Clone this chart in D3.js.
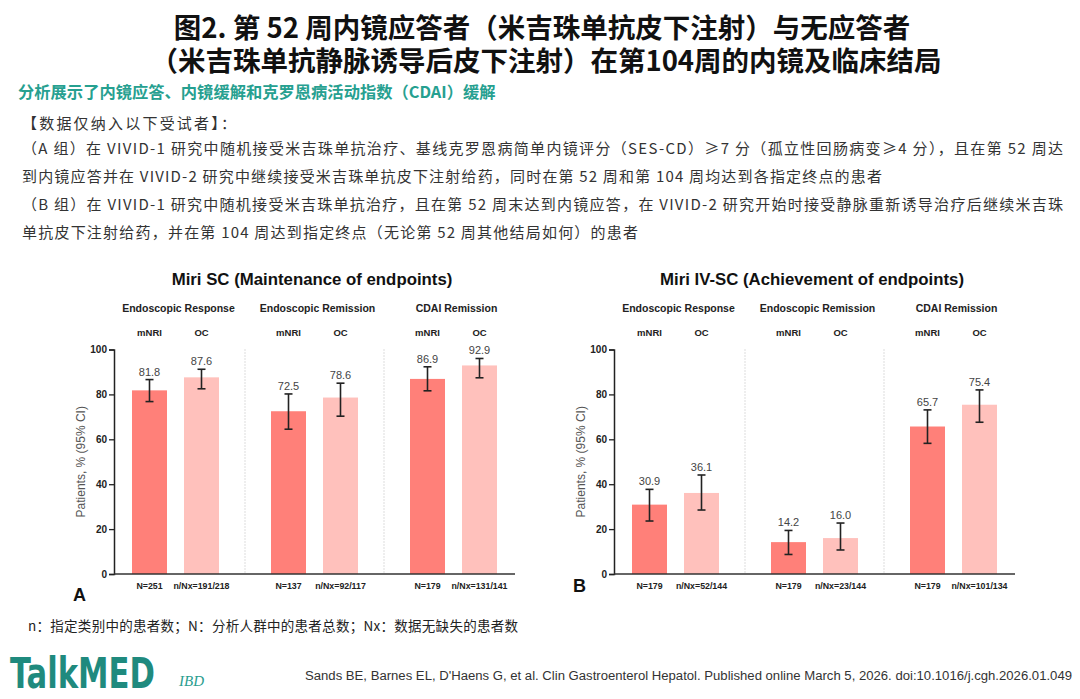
<!DOCTYPE html>
<html>
<head>
<meta charset="utf-8">
<script src="https://cdn.jsdelivr.net/npm/d3@7"></script>
<style>
  html, body { margin: 0; padding: 0; background: #fff; }
  svg { display: block; }
</style>
</head>
<body>
<svg id="chart" width="1080" height="699"></svg>
<script>
// data
const groups = ["Endoscopic Response", "Endoscopic Remission", "CDAI Remission"];
const methods = ["mNRI", "OC"];

const scValues = [[81.8, 87.6], [72.5, 78.6], [86.9, 92.9]];
const scLow = [[76.8, 82.5], [64.5, 70.3], [81.6, 87.4]];
const scHigh = [[86.6, 91.2], [80.2, 85.0], [92.3, 96.0]];
const scN = [["N=251", "n/Nx=191/218"], ["N=137", "n/Nx=92/117"], ["N=179", "n/Nx=131/141"]];

const ivValues = [[30.9, 36.1], [14.2, 16.0], [65.7, 75.4]];
const ivLow = [[23.6, 28.5], [8.7, 10.7], [58.2, 67.6]];
const ivHigh = [[37.7, 44.1], [19.4, 22.7], [73.1, 82.0]];
const ivN = [["N=179", "n/Nx=52/144"], ["N=179", "n/Nx=23/144"], ["N=179", "n/Nx=101/134"]];

const yTicks = [0, 20, 40, 60, 80, 100];

const barColor = { mNRI: "#ff8079", OC: "#ffc1bc" };
const SANS = "'Liberation Sans', Arial, sans-serif";
const CJK = "'Noto Sans CJK SC', sans-serif";

const svg = d3.select("#chart");

// ---- header text ----
const head = svg.append("text").attr("text-anchor", "middle")
  .attr("font-family", CJK).attr("font-weight", "bold").attr("font-size", 27.5).attr("fill", "#111");
head.append("tspan").attr("x", 542).attr("y", 38)
  .text("图2. 第 52 周内镜应答者（米吉珠单抗皮下注射）与无应答者");
head.append("tspan").attr("x", 546).attr("y", 71)
  .text("（米吉珠单抗静脉诱导后皮下注射）在第104周的内镜及临床结局");

svg.append("text").attr("x", 18).attr("y", 98)
  .attr("font-family", CJK).attr("font-weight", "bold").attr("font-size", 16.3).attr("fill", "#26a090")
  .text("分析展示了内镜应答、内镜缓解和克罗恩病活动指数（CDAI）缓解");

const para = [
  { t: "【数据仅纳入以下受试者】：", y: 129, w: 214 },
  { t: "（A 组）在 VIVID-1 研究中随机接受米吉珠单抗治疗、基线克罗恩病简单内镜评分（SES-CD）≥7 分（孤立性回肠病变≥4 分），且在第 52 周达", y: 154, w: 1041 },
  { t: "到内镜应答并在 VIVID-2 研究中继续接受米吉珠单抗皮下注射给药，同时在第 52 周和第 104 周均达到各指定终点的患者", y: 182, w: 860 },
  { t: "（B 组）在 VIVID-1 研究中随机接受米吉珠单抗治疗，且在第 52 周末达到内镜应答，在 VIVID-2 研究开始时接受静脉重新诱导治疗后继续米吉珠", y: 210, w: 1041 },
  { t: "单抗皮下注射给药，并在第 104 周达到指定终点（无论第 52 周其他结局如何）的患者", y: 238, w: 616 }
];
para.forEach(p => {
  svg.append("text").attr("x", 22).attr("y", p.y)
    .attr("font-family", CJK).attr("font-size", 15).attr("fill", "#333")
    .attr("textLength", p.w).attr("lengthAdjust", "spacing")
    .text(p.t);
});

// ---- panels ----
function drawPanel(opts) {
  const { x0, title, letter, letterY, values, low, high, nLabels } = opts;
  const g = svg.append("g");

  const y = d3.scaleLinear().domain([0, 100]).range([574, 349.5]);
  const xg = d3.scaleBand().domain(groups).range([x0, x0 + 417]);
  const xm = d3.scaleBand().domain(methods).range([26, 113]).paddingInner(0.327);
  const axisX = x0 + 8, axisEnd = x0 + 409;

  g.append("text").attr("x", x0 + 206).attr("y", 285).attr("text-anchor", "middle")
    .attr("font-family", SANS).attr("font-weight", "bold").attr("font-size", 16.8).attr("fill", "#111")
    .text(title);

  // dotted group separators
  groups.slice(1).forEach(gr => {
    g.append("line").attr("x1", xg(gr)).attr("x2", xg(gr)).attr("y1", y(100)).attr("y2", y(0))
      .attr("stroke", "#bbb").attr("stroke-width", 1).attr("stroke-dasharray", "1,2");
  });

  groups.forEach((gr, i) => {
    const gx = xg(gr);
    g.append("text").attr("x", gx + xg.bandwidth() / 2 + 3).attr("y", 312).attr("text-anchor", "middle")
      .attr("font-family", SANS).attr("font-weight", "bold").attr("font-size", 10.5).attr("fill", "#222")
      .text(gr);
    methods.forEach((m, j) => {
      const bx = gx + xm(m), bw = xm.bandwidth(), cx = bx + bw / 2;
      g.append("text").attr("x", cx).attr("y", 335.5).attr("text-anchor", "middle")
        .attr("font-family", SANS).attr("font-weight", "bold").attr("font-size", 9.5).attr("fill", "#222")
        .text(m);
      g.append("rect").attr("x", bx).attr("width", bw)
        .attr("y", y(values[i][j])).attr("height", y(0) - y(values[i][j]))
        .attr("fill", barColor[m]);
      // CI whisker
      const eb = g.append("g").attr("stroke", "#222").attr("stroke-width", 1.6);
      eb.append("line").attr("x1", cx).attr("x2", cx).attr("y1", y(low[i][j])).attr("y2", y(high[i][j]));
      eb.append("line").attr("x1", cx - 4).attr("x2", cx + 4).attr("y1", y(low[i][j])).attr("y2", y(low[i][j]));
      eb.append("line").attr("x1", cx - 4).attr("x2", cx + 4).attr("y1", y(high[i][j])).attr("y2", y(high[i][j]));
      g.append("text").attr("x", cx).attr("y", y(high[i][j]) - 4).attr("text-anchor", "middle")
        .attr("font-family", SANS).attr("font-size", 11).attr("fill", "#444")
        .text(values[i][j].toFixed(1));
      g.append("text").attr("x", cx).attr("y", 588.5).attr("text-anchor", "middle")
        .attr("font-family", SANS).attr("font-weight", "bold").attr("font-size", 8.8).attr("fill", "#222")
        .text(nLabels[i][j]);
    });
  });

  // y axis
  const ax = g.append("g").attr("transform", `translate(${axisX},0)`)
    .call(d3.axisLeft(y).tickValues(yTicks).tickSize(5).tickPadding(2));
  ax.select(".domain").attr("stroke", "#222").attr("stroke-width", 1.5);
  ax.selectAll(".tick line").attr("stroke", "#222").attr("stroke-width", 1.3);
  ax.selectAll(".tick text").attr("font-family", SANS).attr("font-weight", "bold")
    .attr("font-size", 10).attr("fill", "#222");
  // baseline
  g.append("line").attr("x1", axisX).attr("x2", axisEnd).attr("y1", y(0)).attr("y2", y(0))
    .attr("stroke", "#333").attr("stroke-width", 1.5);

  g.append("text").attr("transform", `translate(${x0 - 21},${(y(0) + y(100)) / 2}) rotate(-90)`)
    .attr("text-anchor", "middle").attr("font-family", SANS).attr("font-size", 12).attr("fill", "#555")
    .text("Patients, % (95% CI)");

  g.append("text").attr("x", x0 - 33).attr("y", letterY)
    .attr("font-family", SANS).attr("font-weight", "bold").attr("font-size", 18).attr("fill", "#111")
    .text(letter);
}

drawPanel({ x0: 106, title: "Miri SC (Maintenance of endpoints)", letter: "A", letterY: 601,
  values: scValues, low: scLow, high: scHigh, nLabels: scN });
drawPanel({ x0: 606, title: "Miri IV-SC (Achievement of endpoints)", letter: "B", letterY: 592,
  values: ivValues, low: ivLow, high: ivHigh, nLabels: ivN });

// ---- footer ----
svg.append("text").attr("x", 28).attr("y", 631)
  .attr("font-family", CJK).attr("font-size", 13.5).attr("fill", "#222")
  .attr("textLength", 490).attr("lengthAdjust", "spacing")
  .text("n：指定类别中的患者数；N：分析人群中的患者总数；Nx：数据无缺失的患者数");

// logo, squeezed horizontally to the reference width
const logo = svg.append("text")
  .attr("font-family", "'DejaVu Sans Condensed', 'DejaVu Sans', sans-serif").attr("font-weight", "bold")
  .attr("font-size", 43).attr("fill", "#1f8a7e")
  .text("TalkMED");
const logoW = logo.node().getComputedTextLength();
logo.attr("transform", `translate(10,688) scale(${145 / logoW},1)`);

svg.append("text").attr("x", 179).attr("y", 686)
  .attr("font-family", "'Liberation Serif', 'DejaVu Serif', serif").attr("font-style", "italic")
  .attr("font-size", 15).attr("fill", "#2a9d8f")
  .text("IBD");

svg.append("text").attr("x", 305).attr("y", 680)
  .attr("font-family", SANS).attr("font-size", 12.5).attr("fill", "#333")
  .attr("textLength", 767).attr("lengthAdjust", "spacingAndGlyphs")
  .text("Sands BE, Barnes EL, D'Haens G, et al. Clin Gastroenterol Hepatol. Published online March 5, 2026. doi:10.1016/j.cgh.2026.01.049");
</script>
</body>
</html>
